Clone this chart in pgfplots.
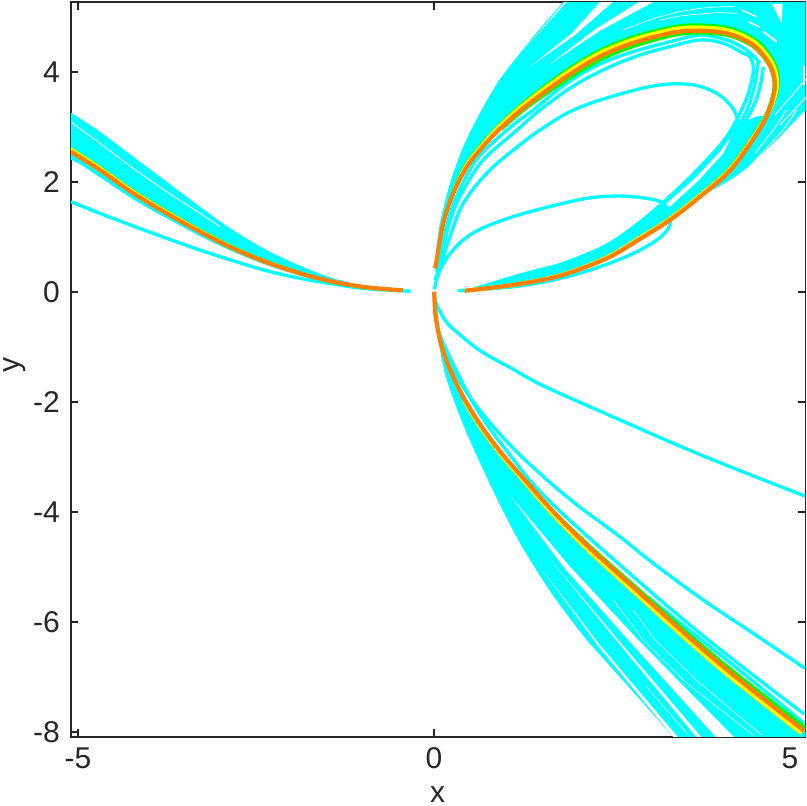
\documentclass[border=0pt]{standalone}
\usepackage{fontspec}
\setmainfont{Liberation Sans}
\usepackage{pgfplots}
\pgfplotsset{compat=1.18}
\definecolor{ax}{gray}{0.15}
\definecolor{cy}{rgb}{0,1,1}
\definecolor{gr}{rgb}{0,1,0}
\definecolor{ye}{rgb}{1,1,0}
\definecolor{or}{rgb}{1,0.5,0}
\begin{document}
\begin{tikzpicture}
\path[use as bounding box] (-71pt,-69.3pt) rectangle (736pt,736.7pt);
\begin{axis}[
  scale only axis, width=734.5pt, height=734.5pt, anchor=south west, at={(0pt,0pt)},
  xmin=-5.098, xmax=5.218, ymin=-8.09, ymax=5.264,
  xtick={-5,0,5}, xticklabels={-5,0,5},
  ytick={-8,-6,-4,-2,0,2,4}, yticklabels={-8,-6,-4,-2,0,2,4},
  tick align=inside, major tick length=7.5pt, tick style={ax,line width=1.8pt},
  axis line style={ax,line width=1.8pt},
  xtick pos=both, ytick pos=both,
  tick label style={ax,font=\fontsize{30}{30}\selectfont,inner sep=0pt},
  xticklabel style={yshift=-11pt},
  yticklabel style={xshift=-11pt},
  xlabel={x}, ylabel={y},
  xlabel style={ax,font=\fontsize{30}{30}\selectfont,at={(axis description cs:0.499,-0.0895)},anchor=base},
  ylabel style={ax,font=\fontsize{30}{30}\selectfont,at={(axis description cs:-0.0705,0.506)},anchor=base},
]
% ---- cyan bundles ----
\addplot[draw=none,fill=cy,smooth,tension=.5] coordinates {(.014,.30)(.014,.576)(.084,1.244)(.225,1.971)(.412,2.638)(.646,3.249)(.881,3.776)(1.067,4.104)(1.39,4.631)(1.816,5.27)(2.2,5.8)(5.8,5.8)(5.8,4)(5.22,3.304)(4.765,2.698)(4.298,2.153)(3.83,1.789)(3.361,1.425)(3.03,1.05)
 (2.893,.96)(3.315,1.304)(3.736,1.727)(4.157,2.2)(4.466,2.74)(4.642,3.109)(4.747,3.455)(4.789,3.789)(4.719,4.122)(4.485,4.485)(4.11,4.698)(3.642,4.746)(3.315,4.7)(2.795,4.522)(2.331,4.278)(1.854,3.907)(1.278,3.364)(.927,2.964)(.692,2.645)(.459,2.264)(.271,1.789)(.131,1.244)(.038,.576)(.014,.424)};
\addplot[draw=none,fill=cy,smooth,tension=.5] coordinates {(.435,.03)(1.208,.333)(1.816,.545)(2.425,.879)(2.893,1.303)(3.221,1.667)(3.596,2.122)(3.97,2.636)(4.204,3.0)(4.368,3.1)(4.532,3.183)(4.66,3.2)
 (4.642,3.109)(4.466,2.74)(4.157,2.2)(3.736,1.727)(3.315,1.304)(2.893,.96)(2.425,.606)(1.77,.29)(1.114,.125)(.435,.018)};
\addplot[draw=none,fill=cy,smooth,tension=.5] coordinates {(.014,-.333)(.06,-.878)(.154,-1.484)(.295,-2.029)(.482,-2.636)(.716,-3.302)(.955,-3.945)(1.254,-4.673)(1.685,-5.545)(2.145,-6.33)(2.331,-6.6)(3.357,-8.09)(3.58,-8.45)(5.4,-8.45)(5.4,-8.15)(5.197,-7.982)(4.204,-6.969)(3.596,-6.3)(2.847,-5.43)(2.167,-4.636)(1.653,-3.969)(1.278,-3.424)(.951,-2.939)(.67,-2.455)(.435,-1.969)(.249,-1.484)(.108,-1)(.024,-.455)(.004,0)};
\addplot[draw=none,fill=cy,smooth,tension=.5] coordinates {(-5.3,3.43)(-5.098,3.255)(-4.691,2.909)(-4.223,2.455)(-3.754,2)(-3.287,1.545)(-2.823,1.12)(-2.35,.758)(-1.882,.473)(-1.419,.244)(-.945,.104)(-.327,.015)(-.945,.062)(-1.419,.153)(-1.882,.291)(-2.35,.485)(-2.823,.727)(-3.287,1.013)(-3.754,1.335)(-4.223,1.68)(-4.691,2.08)(-5.098,2.395)(-5.3,2.2)};
% ---- white gaps in the bundles ----
\addplot[draw=none,fill=white] coordinates {(1.067,-3.7)(1.91,-4.999)(2.87,-6.332)(4.298,-8.21)(4.04,-8.21)(2.729,-6.332)(1.816,-4.999)};
\addplot[draw=none,fill=white] coordinates {(1.582,-4.787)(2.589,-6.332)(3.83,-8.21)(3.759,-8.21)(2.556,-6.332)};
\addplot[draw=none,fill=white] coordinates {(1.489,-4.999)(2.341,-6.441)(3.502,-8.21)(3.436,-8.21)(2.313,-6.453)};
\addplot[white,line width=.6pt] coordinates {(2.519,-5.605)(2.94,-6.332)(3.549,-7.12)(4.485,-8.06)};
\addplot[white,line width=.6pt] coordinates {(2.8,-5.787)(3.104,-6.332)(3.736,-7.12)(4.602,-8.06)};
\addplot[white,line width=.6pt] coordinates {(2.987,-7.181)(3.549,-8.029)};
\addplot[white,line width=1pt,smooth] coordinates {(-5.089,3.073)(-4.691,2.698)(-4.223,2.243)(-3.754,1.818)(-3.287,1.425)(-3.006,1.182)};
\addplot[draw=none,fill=white] coordinates {(1.255,4.395)(1.854,5.3)(1.887,5.3)};
\addplot[draw=none,fill=white] coordinates {(1.348,4.092)(1.934,4.698)(2.355,5.3)(2.542,5.3)(1.98,4.668)};
\addplot[draw=none,fill=white] coordinates {(1.606,4.122)(2.285,4.789)(2.917,5.3)(3.128,5.3)(2.332,4.746)};
\addplot[white,line width=.7pt,smooth] coordinates {(2.659,4.759)(2.94,4.90)(3.174,5.0)(3.502,5.104)(3.876,5.171)(4.227,5.183)};
\addplot[white,line width=.7pt,smooth] coordinates {(3.174,4.94)(3.5,5.02)(3.95,5.07)(4.25,5.06)};
\addplot[white,line width=1.5pt] coordinates {(4.321,5.122)(4.532,5.001)};
\addplot[white,line width=1.5pt] coordinates {(4.415,4.91)(4.579,4.807)};
\addplot[white,line width=2pt] coordinates {(4.625,4.728)(4.813,4.546)};
\addplot[draw=none,fill=white] coordinates {(4.742,5.231)(4.897,5.231)(4.883,4.88)(4.813,5.062)};
\addplot[white,line width=1pt] coordinates {(4.344,2.153)(4.906,2.94)(5.094,3.304)};
\addplot[white,line width=1pt] coordinates {(4.508,2.516)(4.766,2.94)(4.953,3.304)};
\addplot[white,line width=1pt] coordinates {(4.789,3.213)(5.234,3.88)};
\addplot[white,line width=1pt] coordinates {(4.86,3.032)(5.234,3.547)};
\addplot[white,line width=2.5pt] coordinates {(5.2,4.1)(5.2,3.75)};
\addplot[draw=none,fill=white] coordinates {(3.244,1.577)(3.665,2.062)(4.017,2.546)(4.2,2.87)(4.063,2.516)(3.712,2.019)(3.314,1.547)};
% ---- single cyan curves ----
\pgfplotsset{cline/.style={cy,line width=3.3pt,smooth,tension=.6}}
\addplot[cline] coordinates {(-5.098,1.636)(-4.691,1.425)(-4.223,1.194)(-3.754,.971)(-3.287,.758)(-2.823,.564)(-2.35,.382)(-1.882,.244)(-1.419,.14)(-.945,.055)(-.327,.01)};
\addplot[cline] coordinates {(.007,-.005)(.014,-.151)(.154,-.515)(.341,-.756)(.67,-1.091)(1.091,-1.393)(1.513,-1.696)(2.402,-2.211)(3.736,-2.96)(5.21,-3.715)};
\addplot[cline] coordinates {(.014,-.2)(.084,-.878)(.225,-1.302)(.435,-1.787)(.716,-2.273)(1.091,-2.818)(1.513,-3.333)(1.98,-3.847)(2.612,-4.455)(3.08,-4.938)(3.782,-5.605)(4.484,-6.211)(5.21,-6.847)};
\addplot[cline] coordinates {(.03,-.45)(.112,-.878)(.576,-2.078)(1.067,-2.969)(1.605,-3.787)(2.725,-5.096)(3.853,-6.333)(5.197,-7.678)};
\addplot[cline] coordinates {(3.0,-5.55)(4.344,-6.938)(5.197,-7.847)};
% loops
\addplot[cline] coordinates {(.005,.042)(.084,.395)(.267,.758)(.548,1.067)(.969,1.303)(1.489,1.503)(2.144,1.697)(2.612,1.739)(2.987,1.697)(3.221,1.606)(3.315,1.364)(3.291,1.152)(3.127,.939)(2.8,.697)(2.331,.455)(1.77,.242)(1.114,.091)(.332,.018)};
\addplot[cline] coordinates {(.014,.212)(.084,.455)(.225,1)(.412,1.607)(.74,2.153)(1.114,2.576)(1.489,2.94)(1.96,3.304)(2.566,3.576)(3.174,3.76)(3.642,3.76)(3.97,3.607)(4.18,3.365)(4.274,3.09)(4.274,2.758)(4.157,2.485)};
\addplot[cline] coordinates {(.042,.395)(.112,.849)(.253,1.522)(.463,2.122)(.688,2.54)(1.11,3.03)(1.395,3.304)(1.863,3.789)(2.332,4.14)(2.8,4.365)(3.315,4.546)(3.736,4.662)(4.11,4.577)(4.391,4.395)(4.579,4.153)};
\addplot[cline] coordinates {(.042,.36)(.126,.813)(.267,1.449)(.478,1.995)(.716,2.431)(1.166,2.94)(1.489,3.304)(1.957,3.741)(2.425,4.062)(2.893,4.304)(3.315,4.456)(3.736,4.577)(4.064,4.516)(4.344,4.334)(4.438,4.274)(4.485,4.031)(4.415,3.607)(4.274,3.183)(4.087,2.759)};
\addplot[cline] coordinates {(4.555,4.213)(4.508,3.789)(4.415,3.365)(4.274,3.001)(4.157,2.759)};
\addplot[cline] coordinates {(4.625,4.092)(4.579,3.728)(4.485,3.365)(4.274,2.88)};
% ---- densest paths: green, yellow, orange ----
\pgfplotsset{gline/.style={gr,line width=4pt,smooth,tension=.55},yline/.style={ye,line width=4.2pt,smooth,tension=.55},oline/.style={or,line width=4.2pt,smooth,tension=.55}}
\addplot[gline] coordinates {(.265,1.793)(.441,2.279)(.67,2.668)(.902,2.995)(1.246,3.412)(1.817,3.974)(2.301,4.36)(2.771,4.614)(3.30,4.794)(3.64,4.842)(4.127,4.792)(4.526,4.559)(4.774,4.162)(4.831,3.791)(4.767,3.45)(4.642,3.109)};
\addplot[gline] coordinates {(.937,2.952)(1.292,3.344)(1.874,3.87)(2.349,4.229)(2.809,4.47)(3.322,4.656)(3.643,4.71)(4.105,4.672)(4.477,4.47)(4.713,4.118)(4.782,3.789)(4.74,3.457)(4.63,3.116)(4.448,2.755)(4.141,2.218)(3.727,1.742)(3.307,1.319)(2.89,.968)};
\addplot[yline] coordinates {(.271,1.789)(.447,2.274)(.676,2.662)(.907,2.989)(1.255,3.399)(1.83,3.951)(2.312,4.33)(2.781,4.577)(3.306,4.757)(3.641,4.804)(4.12,4.754)(4.51,4.529)(4.753,4.147)(4.817,3.79)(4.761,3.451)(4.638,3.111)(4.454,2.75)(4.147,2.212)(3.727,1.741)(3.307,1.319)(2.886,.976)(2.421,.618)(1.768,.296)(1.114,.125)(.435,.018)};
\addplot[oline] coordinates {(.014,.424)(.038,.576)(.131,1.244)(.271,1.789)(.459,2.264)(.692,2.645)(.927,2.964)(1.278,3.364)(1.854,3.907)(2.331,4.278)(2.795,4.522)(3.315,4.7)(3.642,4.746)(4.11,4.698)(4.485,4.485)(4.719,4.122)(4.789,3.789)(4.747,3.455)(4.642,3.109)(4.466,2.74)(4.157,2.2)(3.736,1.727)(3.315,1.304)(2.893,.96)(2.425,.606)(1.77,.29)(1.114,.125)(.435,.018)};
% lower branch
\addplot[gline] coordinates {(1.278,-3.424)(1.653,-3.969)(2.177,-4.623)(2.862,-5.411)(3.616,-6.275)(4.229,-6.937)(5.226,-7.944)};
\addplot[yline] coordinates {(.425,-1.982)(.66,-2.468)(.939,-2.954)(1.263,-3.443)(1.633,-3.994)(2.142,-4.668)(2.818,-5.468)(3.565,-6.341)(4.17,-7.013)(5.163,-8.026)};
\addplot[oline] coordinates {(.004,0)(.024,-.455)(.108,-1)(.249,-1.484)(.435,-1.969)(.67,-2.455)(.951,-2.939)(1.278,-3.424)(1.653,-3.969)(2.167,-4.636)(2.847,-5.43)(3.596,-6.3)(4.204,-6.969)(5.197,-7.982)};
% left branch
\addplot[gr,line width=3.2pt,smooth] coordinates {(-5.098,2.6)(-4.691,2.26)(-4.223,1.83)(-3.754,1.46)(-3.287,1.12)(-2.823,.81)(-2.35,.55)(-1.882,.345)};
\addplot[ye,line width=2.5pt,smooth] coordinates {(-5.098,2.6)(-4.691,2.26)(-4.223,1.83)(-3.754,1.46)(-3.287,1.12)(-2.823,.81)(-2.35,.55)(-1.882,.345)};
\addplot[oline] coordinates {(-5.098,2.545)(-4.691,2.213)(-4.223,1.789)(-3.754,1.425)(-3.287,1.091)(-2.823,.789)(-2.35,.535)(-1.882,.335)(-1.419,.182)(-.945,.08)(-.435,.025)};
\end{axis}
\end{tikzpicture}
\end{document}
